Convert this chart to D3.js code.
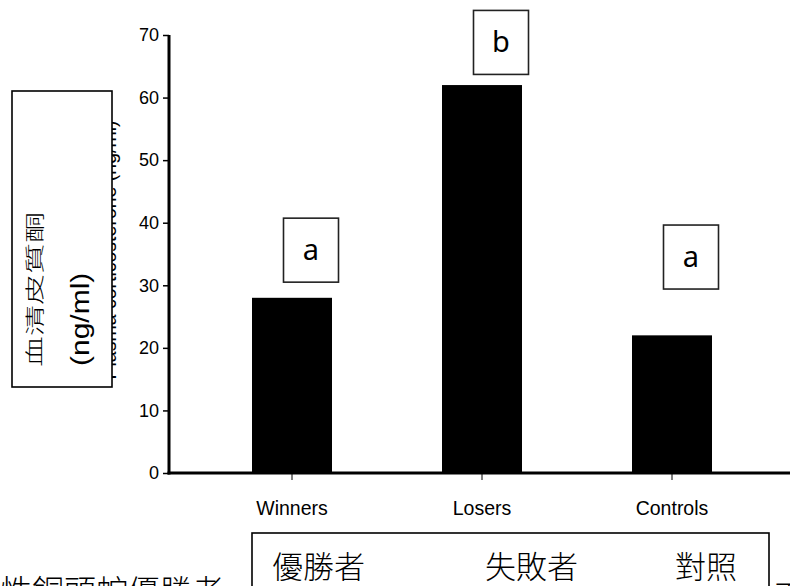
<!DOCTYPE html>
<html>
<head>
<meta charset="utf-8">
<script src="https://cdn.jsdelivr.net/npm/d3@7/dist/d3.min.js"></script>
<style>
  html, body { margin: 0; padding: 0; background: #fff; }
  svg { display: block; }
</style>
</head>
<body>
<script>
// Serum corticosterone by group
const categories = ["Winners", "Losers", "Controls"];
const values = [28, 62, 22];
const yTicks = [0, 10, 20, 30, 40, 50, 60, 70];

// Significance letters and the level (ng/ml) at the bottom of each letter box
const letters = ["a", "b", "a"];
const letterLevels = [30.5, 63.7, 29.4];

// Chinese captions
const yLabelLines = ["血清皮質酮", "(ng/ml)"];
const yLabelOriginal = "Plasma corticosterone (ng/ml)";
const groupNamesZh = ["優勝者", "失敗者", "對照"];
const captionLeft = "雄性銅頭蛇優勝者";
const captionRight = "平";

const W = 790, H = 586;
const svg = d3.select("body").append("svg")
  .attr("width", W).attr("height", H)
  .style("font-family", "'Liberation Sans', Arial, sans-serif");

svg.append("rect").attr("width", W).attr("height", H).attr("fill", "#fff");

const x = d3.scaleBand()
  .domain(categories)
  .range([197, 767])
  .paddingInner(0.579)
  .paddingOuter(0.2895);

const y = d3.scaleLinear().domain([0, 70]).range([473, 35]);

// Original English axis title (mostly hidden behind the Chinese label box)
svg.append("text")
  .attr("transform", "translate(115.5, 250) rotate(-90)")
  .attr("text-anchor", "middle")
  .attr("font-size", 19.5)
  .attr("fill", "#000")
  .text(yLabelOriginal);

// Bars
svg.append("g").selectAll("rect")
  .data(categories)
  .join("rect")
  .attr("x", d => x(d))
  .attr("width", x.bandwidth())
  .attr("y", (d, i) => y(values[i]))
  .attr("height", (d, i) => y(0) - y(values[i]))
  .attr("fill", "#000");

// Y axis
const yAxis = svg.append("g")
  .attr("transform", "translate(169,0)")
  .call(d3.axisLeft(y).tickValues(yTicks).tickSize(6).tickSizeOuter(0).tickPadding(4));
yAxis.select(".domain").remove();
yAxis.selectAll(".tick line").attr("stroke", "#000").attr("stroke-width", 1.5);
yAxis.selectAll(".tick text")
  .attr("font-size", 18)
  .attr("font-family", "'Liberation Sans', Arial, sans-serif")
  .attr("fill", "#000");
svg.append("line")
  .attr("x1", 169).attr("x2", 169)
  .attr("y1", y(70)).attr("y2", y(0) + 1.5)
  .attr("stroke", "#000").attr("stroke-width", 3);

// X axis
const xAxis = svg.append("g")
  .attr("transform", `translate(0,${y(0)})`)
  .call(d3.axisBottom(x).tickSize(7).tickSizeOuter(0).tickPadding(21));
xAxis.select(".domain").remove();
xAxis.selectAll(".tick line").attr("stroke", "#000").attr("stroke-width", 1);
xAxis.selectAll(".tick text")
  .attr("font-size", 19.5)
  .attr("font-family", "'Liberation Sans', Arial, sans-serif")
  .attr("fill", "#000");
svg.append("line")
  .attr("x1", 167.5).attr("x2", W)
  .attr("y1", y(0)).attr("y2", y(0))
  .attr("stroke", "#000").attr("stroke-width", 3);

// Significance letter boxes
const boxW = 55, boxH = 64;
const lg = svg.append("g").selectAll("g")
  .data(categories)
  .join("g")
  .attr("transform", (d, i) =>
    `translate(${x(d) + x.bandwidth() / 2 + 19},${y(letterLevels[i]) - boxH / 2})`);
lg.append("rect")
  .attr("x", -boxW / 2).attr("y", -boxH / 2)
  .attr("width", boxW).attr("height", boxH)
  .attr("fill", "#fff").attr("stroke", "#222").attr("stroke-width", 1.6);
lg.append("text")
  .attr("text-anchor", "middle")
  .attr("y", 10)
  .attr("font-family", "'Noto Sans', 'Open Sans', sans-serif")
  .attr("font-size", 29)
  .attr("fill", "#000")
  .text((d, i) => letters[i]);

// Chinese y-axis label box
svg.append("rect")
  .attr("x", 12).attr("y", 91).attr("width", 100).attr("height", 296)
  .attr("fill", "#fff").attr("stroke", "#000").attr("stroke-width", 1.6);

svg.append("g")
  .attr("transform", "translate(42,367) rotate(-90) scale(1,0.62)")
  .append("text")
  .attr("font-family", "'Noto Sans CJK TC', sans-serif")
  .attr("font-weight", 300)
  .attr("font-size", 31)
  .attr("fill", "#000")
  .text(yLabelLines[0]);

svg.append("g")
  .attr("transform", "translate(89,366) rotate(-90) scale(1,0.85)")
  .append("text")
  .attr("font-family", "'Liberation Sans', Arial, sans-serif")
  .attr("font-size", 30)
  .attr("fill", "#000")
  .text(yLabelLines[1]);

// Bottom caption box with Chinese group names
svg.append("rect")
  .attr("x", 252).attr("y", 533).attr("width", 517).attr("height", 100)
  .attr("fill", "#fff").attr("stroke", "#000").attr("stroke-width", 1.6);

const zhX = [272, 485, 675];
svg.append("g").selectAll("text")
  .data(groupNamesZh)
  .join("text")
  .attr("x", (d, i) => zhX[i])
  .attr("y", 578)
  .attr("font-family", "'Noto Sans CJK TC', sans-serif")
  .attr("font-weight", 300)
  .attr("font-size", 31)
  .attr("fill", "#000")
  .text(d => d);

svg.append("text")
  .attr("x", 224).attr("y", 603)
  .attr("text-anchor", "end")
  .attr("font-family", "'Noto Sans CJK TC', sans-serif")
  .attr("font-weight", 300)
  .attr("font-size", 32)
  .attr("fill", "#000")
  .text(captionLeft);

svg.append("text")
  .attr("x", 773).attr("y", 608)
  .attr("font-family", "'Noto Sans CJK TC', sans-serif")
  .attr("font-weight", 300)
  .attr("font-size", 32)
  .attr("fill", "#000")
  .text(captionRight);
</script>
</body>
</html>
